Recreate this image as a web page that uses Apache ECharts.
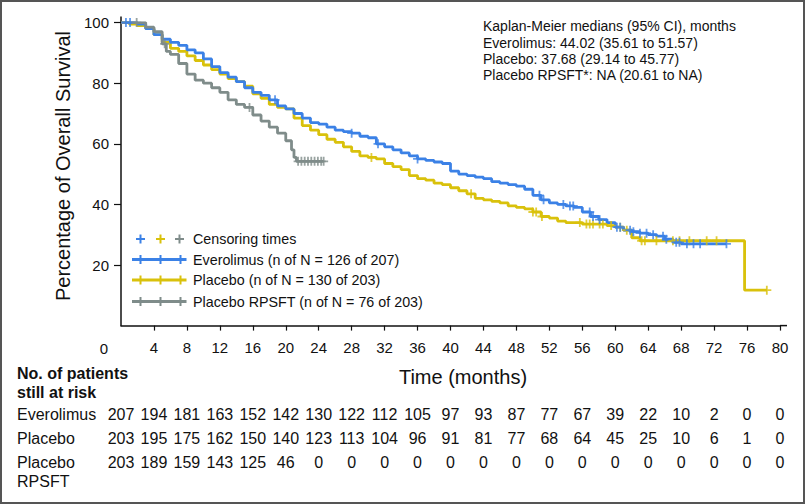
<!DOCTYPE html>
<html>
<head>
<meta charset="utf-8">
<script src="https://cdn.jsdelivr.net/npm/echarts/dist/echarts.min.js"></script>
<style>
html,body{margin:0;padding:0;background:#fff;}
#main{width:805px;height:504px;}
</style>
</head>
<body>
<div id="main"></div>
<script>
// ---------------- DATA ----------------
const riskTimes = [0,4,8,12,16,20,24,28,32,36,40,44,48,52,56,60,64,68,72,76,80];
const riskEverolimus = [207,194,181,163,152,142,130,122,112,105,97,93,87,77,67,39,22,10,2,0,0];
const riskPlacebo = [203,195,175,162,150,140,123,113,104,96,91,81,77,68,64,45,25,10,6,1,0];
const riskRpsft = [203,189,159,143,125,46,0,0,0,0,0,0,0,0,0,0,0,0,0,0,0];

const everolimusTimes = [0,1,2,3,4,5,6,7,8,9,10,11,12,13,14,15,16,17,18,19,20,21,22,23,24,25,26,27,28,29,30,31,32,33,34,35,36,37,38,39,40,41,42,43,44,45,46,47,48,49,50,51,52,53,54,55,56,57,58,59,60,61,62,63,64,65,66,67,68,73.5];
const everolimusSurv  = [100,100,99.5,98,96,94.5,93.5,92.5,91,90,88,85.5,83.5,82,80.5,78.5,77,76,74.5,72.5,71.5,70,68.5,67,66.5,65.5,64.5,64,63.5,62.5,62,60,59,58,57,56,55,54.5,54,53.5,51,50,49.5,49,48.5,47.5,47,46.5,46,45,43,41.5,40.5,40,39.5,39,37.5,36,35,34,32.5,31.5,31,30.5,30,29.5,28.5,27.5,27,27];
const everolimusCensor = [0.6,1.1,18.7,28,31.2,36,50.8,51.3,53.7,54.5,54.9,56.9,57.3,58.1,60.2,60.6,61.8,62.2,63,63.8,64.6,65.8,66.2,67.4,67.8,68.7,69.5,70.3,73.5];

const placeboTimes = [0,1,2,3,4,5,6,7,8,9,10,11,12,13,14,15,16,17,18,19,20,21,22,23,24,25,26,27,28,29,30,31,32,33,34,35,36,37,38,39,40,41,42,43,44,45,46,47,48,49,50,51,52,53,54,56,59,60,61,62,63,75.7,78.4];
const placeboSurv  = [100,99.5,99,98,96,93.5,91.5,90.5,89,87.5,86,84.5,83,81.5,80.5,79,76.5,75,73,72,71.5,68.5,66,64.5,63,61.5,60.5,59,57.5,56,55.5,55,53.5,52.5,51.5,49.5,48.5,48,47,46.5,45.5,44.5,43.5,42,41.5,41,40.5,39.5,39,38.5,37.5,36,35.5,34.5,34,33.5,33,32.5,31.5,29,28,11.7,11.7];
const placeboCensor = [30.4,42.5,50,50.4,51.1,55.7,56.5,56.9,57.3,58.1,58.5,59.5,60.6,61.4,63.2,63.6,65,67,67.8,69,71.1,72.3,78.4];

const rpsftTimes = [0,1,2,3,4,5,5.5,6,7,8,9,10,11,12,13,14,15,16,17,18,19,20,20.7,21,21.3,24.6];
const rpsftSurv  = [100,100,100,98.5,97,93,90.5,89.5,86.5,83,81,80,78.5,77,74.5,73,72,69.5,67.5,65.5,63.5,61,58,55.5,54.2,54.2];
const rpsftCensor = [1.9,5.3,15.6,21.5,21.9,22.3,22.7,23.1,23.5,23.9,24.3,24.6];

const xTickLabels = riskTimes;
const yTicks = [0,20,40,60,80,100];

const legendLabels = ['Censoring times','Everolimus (n of N = 126 of 207)','Placebo (n of N = 130 of 203)','Placebo RPSFT (n of N = 76 of 203)'];
const medianLines = ['Kaplan-Meier medians (95% CI), months','Everolimus: 44.02 (35.61 to 51.57)','Placebo: 37.68 (29.14 to 45.77)','Placebo RPSFT*: NA (20.61 to NA)'];
const riskRowLabels = ['Everolimus','Placebo','Placebo\nRPSFT'];

// ---------------- STYLE ----------------
const FONT = '"Liberation Sans", Arial, Helvetica, sans-serif';
const BLUE = '#3b81e6', YELLOW = '#d9c10b', GRAY = '#7f8c8a';
const PLUS = 'path://M4,0h2v4h4v2h-4v4h-2v-4h-4v-2h4z';

function pairs(ts, ss){ return ts.map((t,i)=>[t, ss[i]]); }
function survAt(ts, ss, t){ let v = ss[0]; for (let i=0;i<ts.length;i++){ if (ts[i] <= t) v = ss[i]; else break; } return v; }
function censorPts(c, ts, ss){ return c.map(t=>[t, survAt(ts, ss, t)]); }

const chart = echarts.init(document.getElementById('main'), null, {renderer:'svg'});

function lineSeries(name, ts, ss, color, z){
  return {name, type:'line', step:'end', data:pairs(ts, ss), showSymbol:false, symbol:'none',
    lineStyle:{color, width:2.8}, itemStyle:{color}, z, animation:false};
}
function censorSeries(name, c, ts, ss, color, z){
  return {name, type:'scatter', data:censorPts(c, ts, ss), symbol:PLUS, symbolSize:9,
    itemStyle:{color}, z, animation:false};
}

chart.setOption({
  animation:false,
  textStyle:{fontFamily:FONT},
  grid:{left:121, right:25, top:22.6, bottom:178.4, containLabel:false},
  xAxis:{type:'value', min:0, max:80, interval:4,
    axisLine:{show:true, lineStyle:{color:'#111', width:1.5}},
    axisTick:{show:true, length:5, lineStyle:{color:'#111', width:1.2}},
    axisLabel:{fontSize:15, color:'#111', margin:14, showMinLabel:false, fontFamily:FONT},
    splitLine:{show:false}},
  yAxis:{type:'value', min:0, max:100, interval:20,
    axisLine:{show:true, lineStyle:{color:'#111', width:1.5}},
    axisTick:{show:true, length:7, lineStyle:{color:'#111', width:1.2}},
    axisLabel:{fontSize:15, color:'#111', margin:12, showMinLabel:false, fontFamily:FONT},
    splitLine:{show:false}},
  series:[
    lineSeries('Placebo', placeboTimes, placeboSurv, YELLOW, 2),
    lineSeries('Everolimus', everolimusTimes, everolimusSurv, BLUE, 3),
    lineSeries('Placebo RPSFT', rpsftTimes, rpsftSurv, GRAY, 4),
    censorSeries('Placebo censor', placeboCensor, placeboTimes, placeboSurv, YELLOW, 5),
    censorSeries('Everolimus censor', everolimusCensor, everolimusTimes, everolimusSurv, BLUE, 6),
    censorSeries('RPSFT censor', rpsftCensor, rpsftTimes, rpsftSurv, GRAY, 7)
  ]
});

// ---------------- TEXT / LEGEND GRAPHICS ----------------
const g = [];
// outer frame
g.push({type:'rect', shape:{x:1, y:1, width:803, height:502}, style:{fill:'none', stroke:'#555', lineWidth:2}, z:100});

// axis line overhangs (as in the original the axes run a little past the last ticks)
const x0 = chart.convertToPixel({xAxisIndex:0}, 0);
const xEnd = chart.convertToPixel({xAxisIndex:0}, 80);
const yBase = chart.convertToPixel({yAxisIndex:0}, 0);
const yTop = chart.convertToPixel({yAxisIndex:0}, 100);
g.push({type:'line', shape:{x1:xEnd, y1:yBase, x2:xEnd+7, y2:yBase}, style:{stroke:'#111', lineWidth:1.5}});
g.push({type:'line', shape:{x1:x0, y1:yTop, x2:x0, y2:yTop-6}, style:{stroke:'#111', lineWidth:1.5}});

// zero label of x axis (offset left as in the original)
g.push({type:'text', x:x0-17, y:348, style:{text:String(xTickLabels[0]), font:'15px '+FONT, fill:'#111', align:'center', verticalAlign:'middle'}});

// axis titles
g.push({type:'text', x:63, y:166, rotation:Math.PI/2, style:{text:'Percentage of Overall Survival', font:'20px '+FONT, fill:'#111', align:'center', verticalAlign:'middle'}});
g.push({type:'text', x:463, y:377, style:{text:'Time (months)', font:'20px '+FONT, fill:'#111', align:'center', verticalAlign:'middle'}});

// medians text
const medY = [26, 42.5, 58.5, 74.5];
medianLines.forEach((s,i)=>g.push({type:'text', x:483, y:medY[i], style:{text:s, font:'14px '+FONT, fill:'#111', align:'left', verticalAlign:'middle'}}));

// legend
const legY = [239, 259.5, 280, 301.5];
const legColors = [BLUE, YELLOW, GRAY];
const plusPath = (cx, cy, color) => ({type:'group', children:[
  {type:'rect', shape:{x:cx-1, y:cy-4.5, width:2, height:9}, style:{fill:color}},
  {type:'rect', shape:{x:cx-4.5, y:cy-1, width:9, height:2}, style:{fill:color}}
]});
[140.5, 160.5, 179.5].forEach((cx,i)=>g.push(plusPath(cx, legY[0], legColors[i])));
legColors.forEach((c,i)=>{
  const y = legY[i+1];
  g.push({type:'line', shape:{x1:132, y1:y, x2:186.5, y2:y}, style:{stroke:c, lineWidth:2.8}});
  [140.5, 160.5, 180.5].forEach(cx=>g.push(plusPath(cx, y, c)));
});
legendLabels.forEach((s,i)=>g.push({type:'text', x:193, y:legY[i], style:{text:s, font:'14.3px '+FONT, fill:'#111', align:'left', verticalAlign:'middle'}}));

// risk table
g.push({type:'text', x:17, y:373, style:{text:'No. of patients', font:'bold 16px '+FONT, fill:'#111', align:'left', verticalAlign:'middle'}});
g.push({type:'text', x:17, y:392, style:{text:'still at risk', font:'bold 16px '+FONT, fill:'#111', align:'left', verticalAlign:'middle'}});
const rowY = [414, 438, 462];
g.push({type:'text', x:17, y:rowY[0], style:{text:riskRowLabels[0], font:'16px '+FONT, fill:'#111', align:'left', verticalAlign:'middle'}});
g.push({type:'text', x:17, y:rowY[1], style:{text:riskRowLabels[1], font:'16px '+FONT, fill:'#111', align:'left', verticalAlign:'middle'}});
g.push({type:'text', x:17, y:rowY[2]-9.5, style:{text:riskRowLabels[2], font:'16px '+FONT, fill:'#111', align:'left', verticalAlign:'top', lineHeight:19}});
[riskEverolimus, riskPlacebo, riskRpsft].forEach((row, r)=>{
  row.forEach((v,i)=>{
    const px = chart.convertToPixel({xAxisIndex:0}, riskTimes[i]);
    g.push({type:'text', x:px, y:rowY[r], style:{text:String(v), font:'16px '+FONT, fill:'#111', align:'center', verticalAlign:'middle'}});
  });
});

chart.setOption({graphic:{elements:g}});
</script>
</body>
</html>
